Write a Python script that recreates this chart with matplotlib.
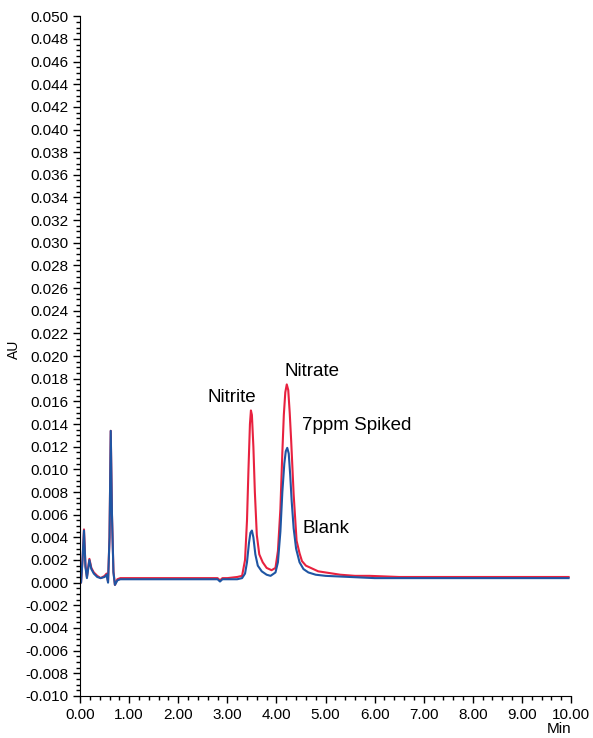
import numpy as np
import matplotlib
matplotlib.use("Agg")
import matplotlib.pyplot as plt
from matplotlib.ticker import MultipleLocator, FormatStrFormatter

plt.rcParams["font.family"] = ["Liberation Sans", "DejaVu Sans"]

# 7ppm spiked trace (red)
spiked_t = [0.00, 0.02, 0.05, 0.08, 0.11, 0.14, 0.19, 0.23, 0.28, 0.35, 0.42, 0.50,
            0.54, 0.57, 0.60, 0.625, 0.65, 0.68, 0.71, 0.76, 0.82, 1.00, 1.50, 2.00,
            2.50, 2.80, 2.85, 2.90, 3.00, 3.20, 3.30, 3.36, 3.40, 3.43, 3.46, 3.48,
            3.50, 3.53, 3.56, 3.60, 3.65, 3.72, 3.80, 3.90, 3.98, 4.03, 4.08, 4.12,
            4.15, 4.18, 4.21, 4.24, 4.27, 4.30, 4.35, 4.41, 4.47, 4.52, 4.60, 4.70,
            4.85, 5.00, 5.30, 5.60, 5.90, 6.50, 7.00, 8.00, 9.00, 9.95]
spiked_au = [0.0000, 0.0000, 0.0020, 0.0047, 0.0015, 0.0005, 0.0021, 0.0013, 0.0009,
             0.0006, 0.0004, 0.0006, 0.0008, 0.0001, 0.0040, 0.0134, 0.0060, 0.0010,
             -0.0002, 0.0003, 0.0004, 0.0004, 0.0004, 0.0004, 0.0004, 0.0004, 0.0002,
             0.0004, 0.0004, 0.0005, 0.0006, 0.0020, 0.0055, 0.0100, 0.0140, 0.0152,
             0.0148, 0.0120, 0.0080, 0.0042, 0.0025, 0.0018, 0.0013, 0.0011, 0.0013,
             0.0028, 0.0065, 0.0115, 0.0148, 0.0168, 0.0175, 0.0170, 0.0150, 0.0125,
             0.0078, 0.0037, 0.0026, 0.0019, 0.0015, 0.0013, 0.0010, 0.0009, 0.0007,
             0.0006, 0.0006, 0.0005, 0.0005, 0.0005, 0.0005, 0.0005]

# blank trace (blue)
blank_t = [0.00, 0.02, 0.05, 0.08, 0.11, 0.14, 0.19, 0.23, 0.28, 0.35, 0.42, 0.50,
           0.54, 0.57, 0.60, 0.625, 0.65, 0.68, 0.71, 0.76, 0.82, 1.00, 1.50, 2.00,
           2.50, 2.80, 2.85, 2.90, 3.00, 3.20, 3.30, 3.36, 3.40, 3.44, 3.47, 3.50,
           3.53, 3.57, 3.62, 3.70, 3.80, 3.88, 3.98, 4.03, 4.08, 4.12, 4.16, 4.19,
           4.22, 4.25, 4.28, 4.31, 4.35, 4.40, 4.47, 4.55, 4.65, 4.80, 5.00, 5.50,
           6.00, 7.00, 8.00, 9.00, 9.95]
blank_au = [0.0000, 0.0000, 0.0020, 0.0046, 0.0014, 0.0004, 0.0020, 0.0012, 0.0008,
            0.0005, 0.0004, 0.0005, 0.0007, 0.0000, 0.0040, 0.0134, 0.0060, 0.0009,
            -0.0002, 0.0002, 0.0003, 0.0003, 0.0003, 0.0003, 0.0003, 0.0003, 0.0001,
            0.0003, 0.0003, 0.0003, 0.0004, 0.0008, 0.0018, 0.0035, 0.0044, 0.0046,
            0.0040, 0.0025, 0.0015, 0.0010, 0.0007, 0.0006, 0.0009, 0.0018, 0.0045,
            0.0080, 0.0105, 0.0116, 0.0119, 0.0114, 0.0095, 0.0072, 0.0048, 0.0030,
            0.0018, 0.0012, 0.0009, 0.0007, 0.0006, 0.0005, 0.0004, 0.0004, 0.0004,
            0.0004, 0.0004]

fig = plt.figure(figsize=(5.93, 7.38), dpi=100)
ax = fig.add_axes([0.135, 0.057, 0.828, 0.921])

ax.plot(spiked_t, spiked_au, color="#e8213f", lw=1.5)
ax.plot(blank_t, blank_au, color="#1f55a3", lw=1.5)

ax.text(3.10, 0.0163, "Nitrite", fontsize=13.5, ha="center", va="center")
ax.text(4.72, 0.0186, "Nitrate", fontsize=13.5, ha="center", va="center")
ax.text(4.52, 0.0139, "7ppm Spiked", fontsize=13.5, ha="left", va="center")
ax.text(4.53, 0.0048, "Blank", fontsize=13.5, ha="left", va="center")

ax.set_xlim(0, 10)
ax.set_ylim(-0.010, 0.050)
ax.xaxis.set_major_locator(MultipleLocator(1))
ax.xaxis.set_minor_locator(MultipleLocator(0.2))
ax.yaxis.set_major_locator(MultipleLocator(0.002))
ax.yaxis.set_minor_locator(MultipleLocator(0.0005))
ax.xaxis.set_major_formatter(FormatStrFormatter("%.2f"))
ax.yaxis.set_major_formatter(FormatStrFormatter("%.3f"))
ax.tick_params(which="major", length=5, width=1, labelsize=11, color="black")
ax.tick_params(which="minor", length=3, width=1)
ax.spines["top"].set_visible(False)
ax.spines["right"].set_visible(False)

fig.text(0.024, 0.527, "AU", fontsize=10, rotation=90, ha="center", va="center")
fig.text(0.963, 0.012, "Min", fontsize=11, ha="right", va="center")

fig.savefig("out.png", dpi=100)
